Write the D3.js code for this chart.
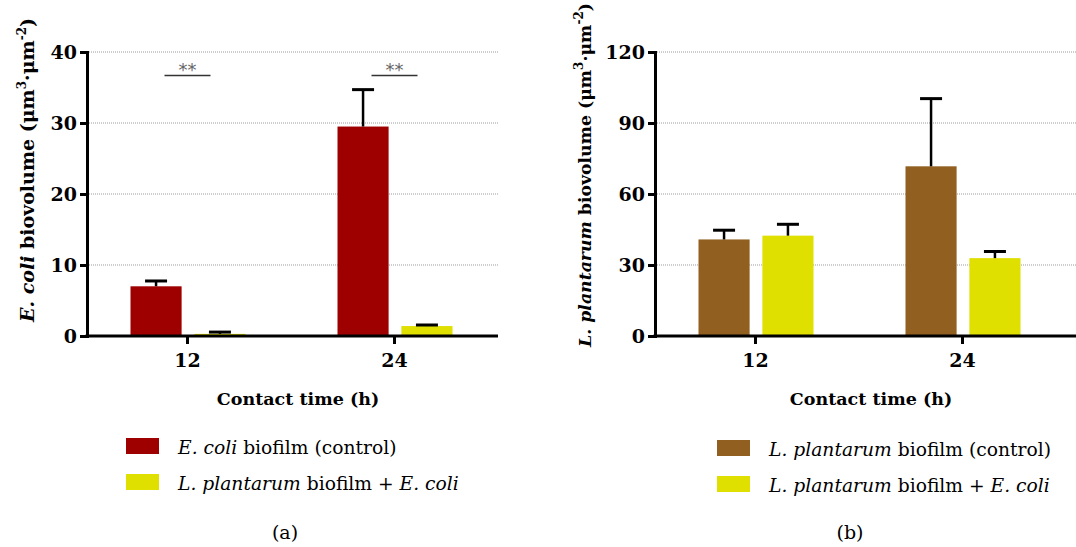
<!DOCTYPE html>
<html lang="en">

<head>
    <meta charset="utf-8">
    <script src="https://d3js.org/d3.v7.min.js"></script>
    <style>
        body { margin: 0; background: white; }
        svg { display: block; }
    </style>
</head>

<body>
    <script>
        // contact times (x categories)
        const times = ["12", "24"];

        // panel (a): E. coli biovolume
        const ecoliControl = [7.0, 29.5];
        const ecoliControlErr = [0.75, 5.2];
        const ecoliWithLp = [0.3, 1.4];
        const ecoliWithLpErr = [0.25, 0.15];
        const ecoliTicks = [0, 10, 20, 30, 40];
        const ecoliSig = ["**", "**"];
        const ecoliSigLevel = [36.7, 36.7];

        // panel (b): L. plantarum biovolume
        const lpControl = [40.8, 71.7];
        const lpControlErr = [3.9, 28.6];
        const lpWithEc = [42.4, 32.9];
        const lpWithEcErr = [4.8, 2.8];
        const lpTicks = [0, 30, 60, 90, 120];

        const W = 1076, H = 547;
        const serif = "'DejaVu Serif', serif";

        const svg = d3.select("body").append("svg")
            .attr("width", W)
            .attr("height", H)
            .style("font-family", serif);

        function drawPanel(p) {
            const g = svg.append("g");

            const y = d3.scaleLinear().domain([0, p.ticks[p.ticks.length - 1]]).range([336, 52]);
            // outer band: one band per contact time
            const x = d3.scaleBand().domain(times).range([p.left - 3, p.left - 3 + 414]);
            // inner band: the two series inside each time band
            const xs = d3.scaleBand().domain([0, 1]).range([46.5, 161.5]).paddingInner(0.2);

            // dotted grid
            g.selectAll(".grid").data(p.ticks.slice(1)).enter().append("line")
                .attr("x1", p.left).attr("x2", p.right)
                .attr("y1", d => y(d)).attr("y2", d => y(d))
                .attr("stroke", "#9a9a9a")
                .attr("stroke-width", 1)
                .attr("stroke-dasharray", "1,1");

            // bars
            p.series.forEach((s, si) => {
                g.selectAll(".bar" + si).data(s.values).enter().append("rect")
                    .attr("x", (d, i) => x(times[i]) + xs(si))
                    .attr("width", xs.bandwidth())
                    .attr("y", d => y(d))
                    .attr("height", d => y(0) - y(d))
                    .attr("fill", s.color);

                // error bars (upper only)
                const cx = i => x(times[i]) + xs(si) + xs.bandwidth() / 2;
                g.selectAll(".err" + si).data(s.values).enter().append("line")
                    .attr("x1", (d, i) => cx(i)).attr("x2", (d, i) => cx(i))
                    .attr("y1", d => y(d)).attr("y2", (d, i) => y(d + s.err[i]))
                    .attr("stroke", "black").attr("stroke-width", 2.5);
                g.selectAll(".cap" + si).data(s.values).enter().append("line")
                    .attr("x1", (d, i) => cx(i) - 11).attr("x2", (d, i) => cx(i) + 11)
                    .attr("y1", (d, i) => y(d + s.err[i])).attr("y2", (d, i) => y(d + s.err[i]))
                    .attr("stroke", "black").attr("stroke-width", 3);
            });

            // significance marks
            if (p.sig) {
                p.sig.forEach((lab, i) => {
                    const mid = x(times[i]) + x.bandwidth() / 2;
                    g.append("line")
                        .attr("x1", mid - 23).attr("x2", mid + 23)
                        .attr("y1", y(p.sigLevel[i])).attr("y2", y(p.sigLevel[i]))
                        .attr("stroke", "#333").attr("stroke-width", 1.5);
                    g.append("text")
                        .attr("x", mid).attr("y", y(p.sigLevel[i]) + 1)
                        .attr("text-anchor", "middle")
                        .style("font-family", "'DejaVu Sans', sans-serif")
                        .style("font-size", "18px")
                        .attr("fill", "#666")
                        .text(lab);
                });
            }

            // y axis
            const yAxis = g.append("g")
                .attr("transform", "translate(" + p.left + ",0)")
                .call(d3.axisLeft(y).tickValues(p.ticks).tickSizeOuter(0).tickSize(7).tickPadding(3));
            yAxis.select(".domain").attr("stroke-width", 3);
            yAxis.selectAll(".tick line").attr("stroke-width", 3);
            yAxis.selectAll("text")
                .style("font-family", serif)
                .style("font-size", "19px")
                .style("font-weight", "bold")
                .attr("fill", "black");

            // x axis
            const xAxis = g.append("g")
                .attr("transform", "translate(0," + y(0) + ")")
                .call(d3.axisBottom(x).tickSize(8).tickPadding(10));
            xAxis.select(".domain").remove();
            xAxis.append("line")
                .attr("x1", p.left - 1.5).attr("x2", p.right)
                .attr("stroke", "black").attr("stroke-width", 3);
            xAxis.selectAll(".tick line").attr("stroke-width", 3);
            xAxis.selectAll("text")
                .style("font-family", serif)
                .style("font-size", "19px")
                .style("font-weight", "bold")
                .attr("fill", "black");

            // axis titles
            g.append("text")
                .attr("x", p.xTitleX).attr("y", 405)
                .attr("text-anchor", "middle")
                .style("font-size", "17.5px")
                .style("font-weight", "bold")
                .text("Contact time (h)");

            const yt = g.append("text")
                .attr("transform", "translate(" + p.yTitleX + "," + p.yTitleY + ") rotate(-90)")
                .attr("text-anchor", "middle")
                .style("font-size", p.yTitleSize + "px")
                .style("font-weight", "bold");
            yt.append("tspan").style("font-style", "italic").text(p.species);
            yt.append("tspan").text(" biovolume (\u03bcm");
            yt.append("tspan").attr("dy", -8).style("font-size", "12px").text("3");
            yt.append("tspan").attr("dy", 8).text("\u00b7\u03bcm");
            yt.append("tspan").attr("dy", -8).style("font-size", "12px").text("-2");
            yt.append("tspan").attr("dy", 8).text(")");

            // legend
            p.series.forEach((s, si) => {
                const ly = p.legendY + si * 36;
                g.append("rect")
                    .attr("x", p.legendX).attr("y", ly - 16)
                    .attr("width", 33).attr("height", 16)
                    .attr("fill", s.color);
                const t = g.append("text")
                    .attr("x", p.legendX + 52).attr("y", ly)
                    .style("font-size", "18.7px");
                s.label.forEach(part => {
                    t.append("tspan").style("font-style", part[1] ? "italic" : "normal").text(part[0]);
                });
            });

            // panel caption
            g.append("text")
                .attr("x", p.captionX).attr("y", 539)
                .attr("text-anchor", "middle")
                .style("font-size", "19px")
                .text(p.caption);
        }

        drawPanel({
            left: 87, right: 498,
            ticks: ecoliTicks,
            series: [
                { values: ecoliControl, err: ecoliControlErr, color: "#9e0000",
                  label: [["E. coli", true], [" biofilm (control)", false]] },
                { values: ecoliWithLp, err: ecoliWithLpErr, color: "#dfdf00",
                  label: [["L. plantarum", true], [" biofilm + ", false], ["E. coli", true]] }
            ],
            sig: ecoliSig, sigLevel: ecoliSigLevel,
            species: "E. coli",
            xTitleX: 298, yTitleX: 34, yTitleY: 170, yTitleSize: 19,
            legendX: 126, legendY: 454,
            captionX: 285, caption: "(a)"
        });

        drawPanel({
            left: 655, right: 1076,
            ticks: lpTicks,
            series: [
                { values: lpControl, err: lpControlErr, color: "#915f1f",
                  label: [["L. plantarum", true], [" biofilm (control)", false]] },
                { values: lpWithEc, err: lpWithEcErr, color: "#dfdf00",
                  label: [["L. plantarum", true], [" biofilm + ", false], ["E. coli", true]] }
            ],
            species: "L. plantarum",
            xTitleX: 871, yTitleX: 591, yTitleY: 175, yTitleSize: 17.3,
            legendX: 717, legendY: 456,
            captionX: 850, caption: "(b)"
        });
    </script>
</body>

</html>
